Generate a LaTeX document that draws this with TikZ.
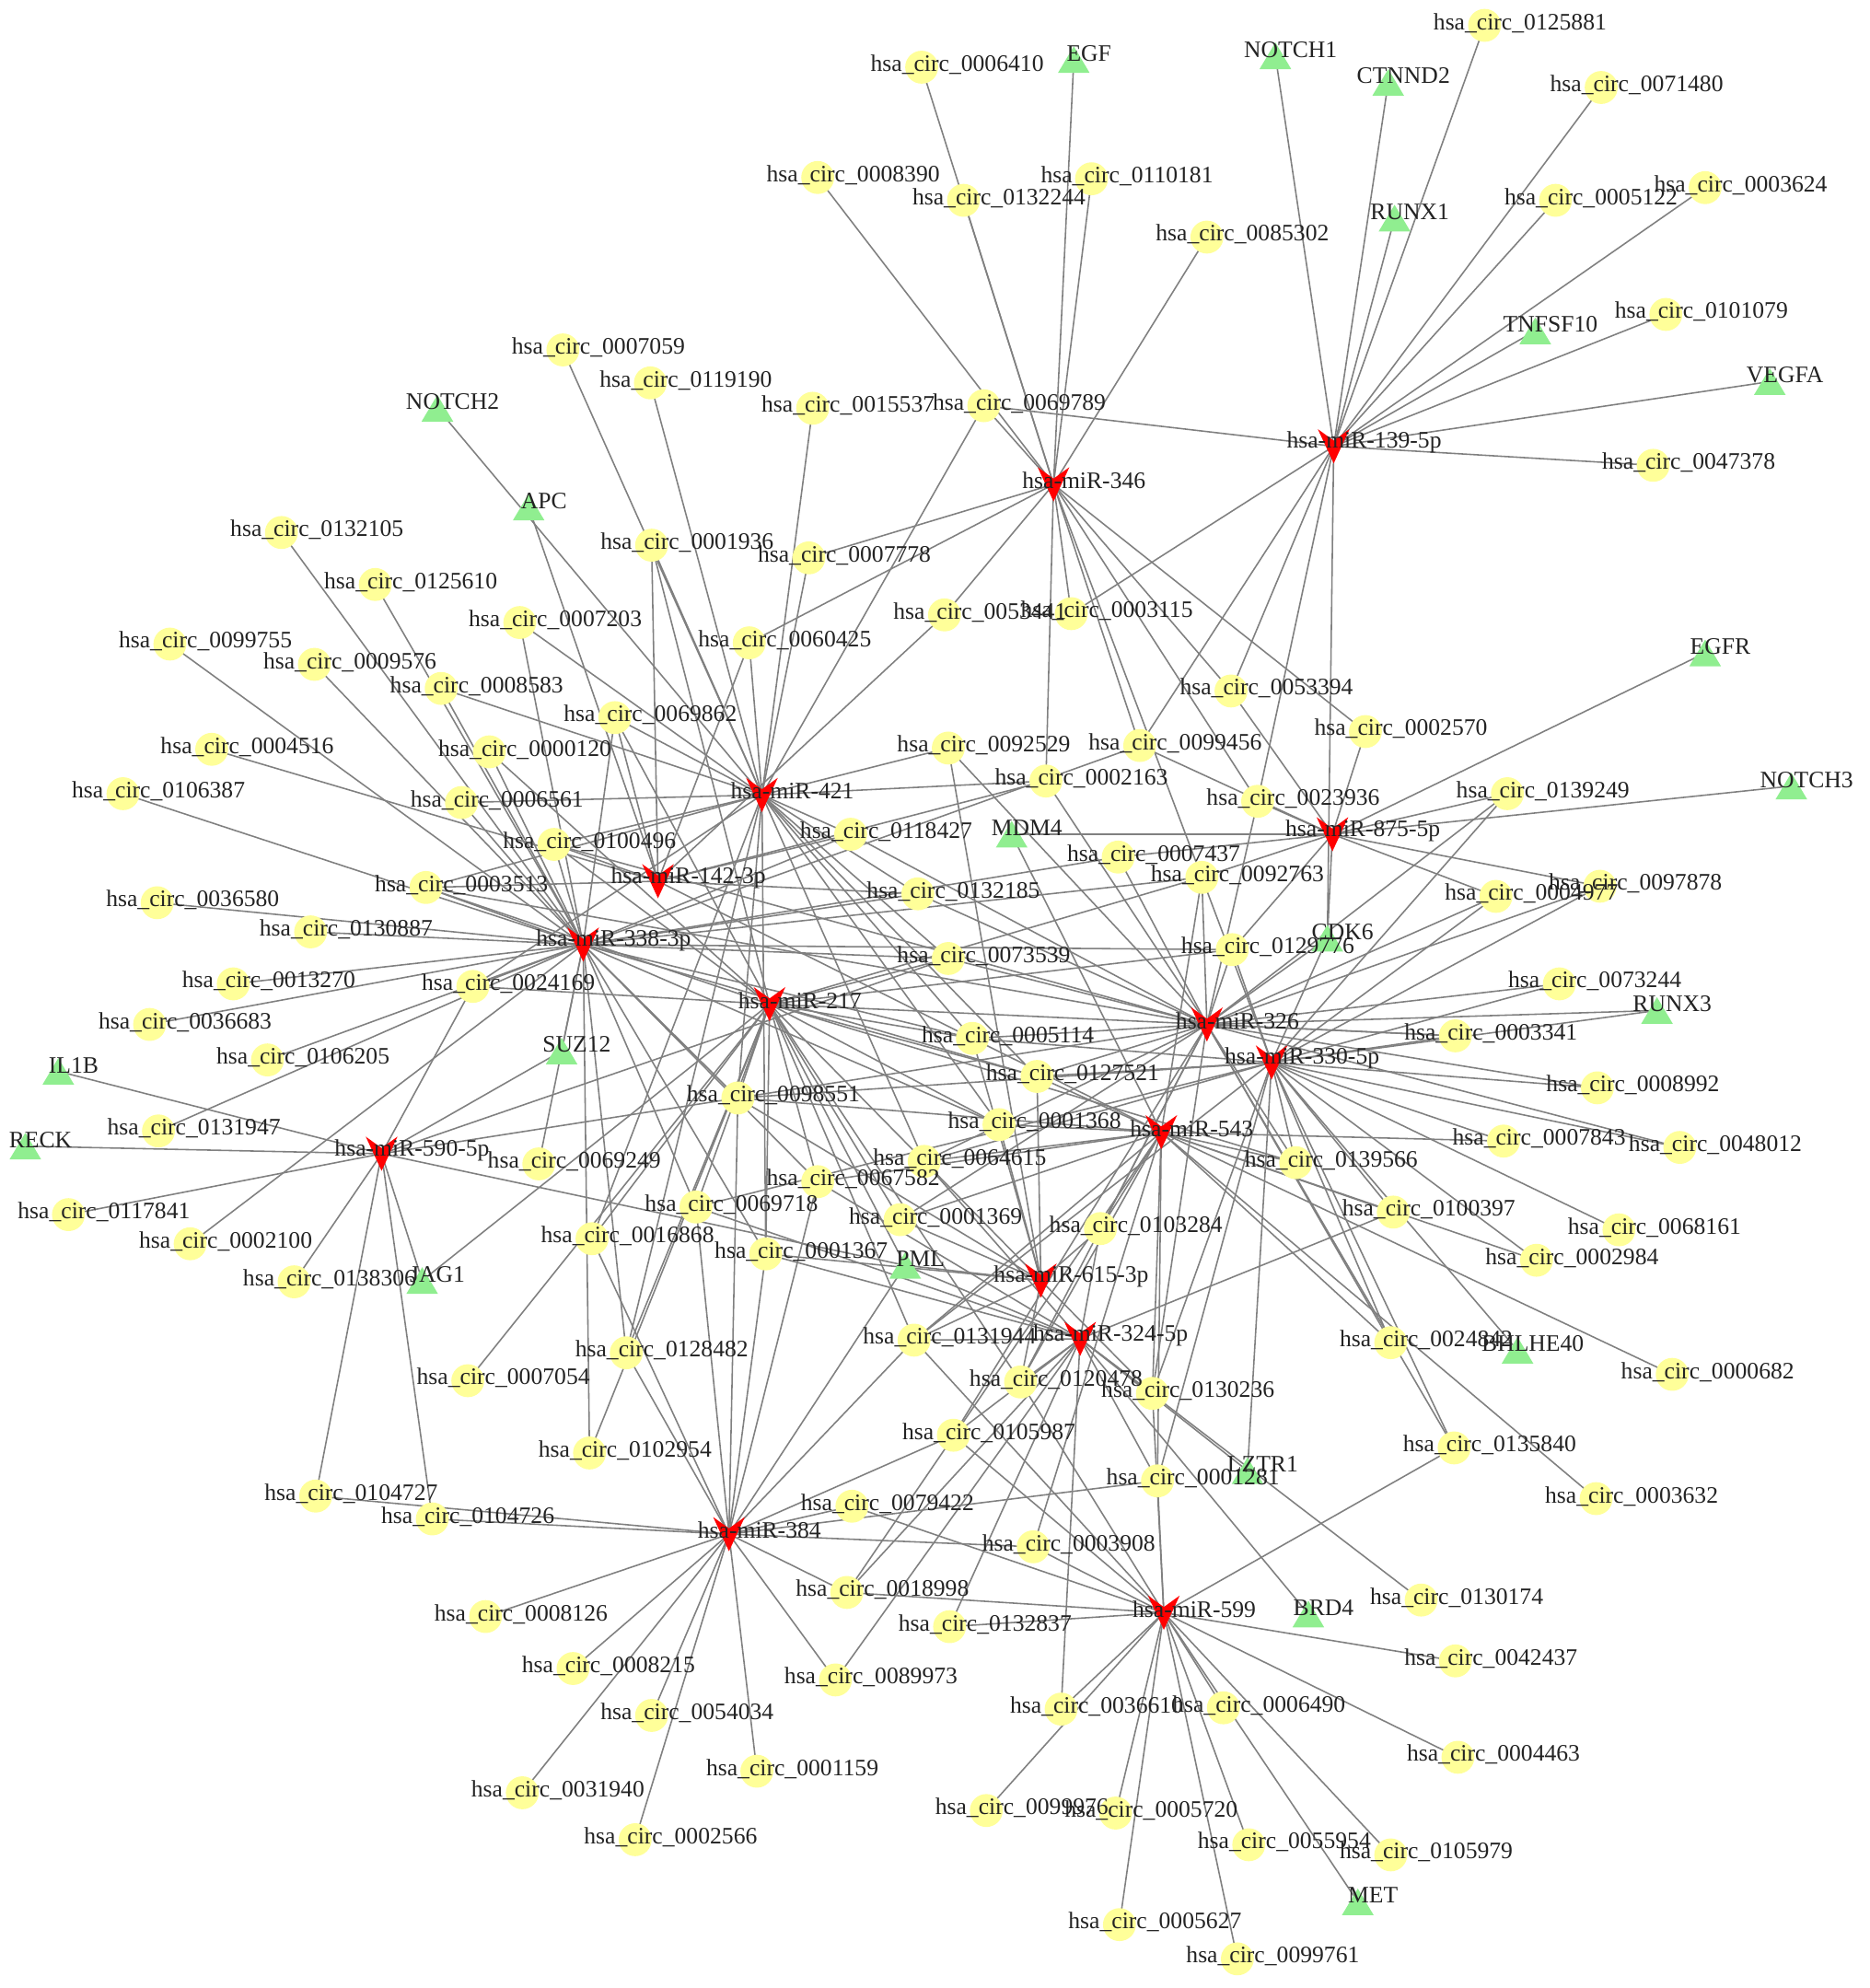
\documentclass[tikz,border=0pt]{standalone}
\usepackage{fontspec}
\setmainfont{Liberation Serif}
\usetikzlibrary{calc}
\definecolor{circyellow}{RGB}{255,255,153}
\definecolor{genegreen}{RGB}{144,238,144}
\definecolor{mirred}{RGB}{255,0,0}
\definecolor{edgegrey}{RGB}{128,128,128}
\definecolor{labelgrey}{RGB}{35,35,35}
\pgfdeclarelayer{edges}
\pgfdeclarelayer{labels}
\pgfsetlayers{edges,main,labels}

% circRNA id / x / y
\newcommand{\circlist}{0006410/727/53, 0125881/1171/20, 0071480/1263/69, 0008390/645/140,
  0110181/861/141, 0132244/760/158, 0005122/1227/158, 0003624/1345/148, 0085302/952/187,
  0101079/1314/248, 0007059/444/276, 0119190/513/302, 0015537/641/322, 0069789/776/320,
  0047378/1304/367, 0132105/222/420, 0001936/514/430, 0007778/638/440, 0125610/296/461,
  0007203/410/491, 0053441/745/485, 0003115/845/484, 0099755/134/508, 0009576/248/524,
  0060425/591/507, 0008583/348/543, 0053394/971/545, 0069862/485/566, 0002570/1077/577,
  0004516/167/591, 0000120/386/593, 0092529/748/590, 0099456/899/588, 0002163/825/616,
  0106387/97/626, 0006561/364/633, 0023936/992/632, 0139249/1189/626, 0118427/671/658,
  0100496/437/666, 0007437/882/676, 0092763/948/692, 0003513/336/700, 0097878/1262/699,
  0004977/1180/707, 0132185/724/705, 0036580/124/712, 0130887/245/735, 0073539/748/756,
  0129776/972/749, 0013270/184/776, 0024169/373/778, 0073244/1230/776, 0036683/118/808,
  0005114/767/819, 0003341/1148/817, 0106205/211/836, 0127521/818/849, 0098551/582/866,
  0008992/1260/858, 0001368/788/887, 0131947/125/892, 0007843/1186/900, 0048012/1325/905,
  0069249/425/918, 0064615/729/916, 0139566/1022/917, 0067582/645/932, 0117841/54/958,
  0069718/549/952, 0001369/710/962, 0103284/868/969, 0100397/1099/956, 0068161/1277/970,
  0002100/150/981, 0016868/467/977, 0001367/604/989, 0002984/1212/994, 0138306/232/1011,
  0128482/494/1067, 0131944/721/1057, 0024842/1097/1059, 0000682/1319/1084, 0007054/369/1089,
  0120478/805/1090, 0130236/909/1099, 0102954/465/1146, 0105987/752/1132, 0135840/1147/1142,
  0001281/913/1168, 0003632/1259/1182, 0104727/249/1180, 0104726/341/1198, 0079422/672/1188,
  0003908/815/1220, 0130174/1121/1262, 0008126/383/1275, 0018998/668/1256, 0132837/749/1283,
  0042437/1148/1310, 0008215/452/1316, 0089973/659/1325, 0054034/514/1353, 0036610/837/1348,
  0006490/965/1347, 0004463/1150/1386, 0001159/597/1397, 0031940/412/1414, 0099976/778/1428,
  0005720/880/1430, 0002566/501/1451, 0055954/985/1455, 0105979/1097/1463, 0005627/883/1518,
  0099761/976/1545}
% miRNA id / label / x / y
\newcommand{\mirlist}{139/139-5p/1052/352, 346/346/831/382, 421/421/601/627, 142/142-3p/519/695,
  338/338-3p/460/745, 217/217/607/792, 875/875-5p/1051/658, 326/326/952/808,
  330/330-5p/1003/838, 543/543/916/893, 590/590-5p/301/910, 615/615-3p/821/1010,
  324/324-5p/852/1056, 384/384/575/1210, 599/599/918/1272}
% gene / x / y
\newcommand{\genelist}{EGF/847/47, NOTCH1/1006/44, CTNND2/1095/65, RUNX1/1100/172,
  TNFSF10/1211/261, VEGFA/1396/301, NOTCH2/345/322, APC/417/400, EGFR/1345/515,
  NOTCH3/1413/620, MDM4/798/658, CDK6/1047/740, RUNX3/1307/797, IL1B/46/845,
  SUZ12/443/829, RECK/20/904, JAG1/333/1010, PML/714/998, BHLHE40/1197/1065,
  LZTR1/984/1160, BRD4/1032/1273, MET/1071/1500}

\begin{document}
\begin{tikzpicture}[x=0.02cm, y=-0.02cm,
    circnode/.style={circle, fill=circyellow, minimum size=0.52cm, inner sep=0pt},
    mirnode/.style={rectangle, minimum width=0.5cm, minimum height=0.54cm, inner sep=0pt,
      path picture={\fill[mirred] (path picture bounding box.north west)
        -- ($(path picture bounding box.north)+(0,-0.18cm)$)
        -- (path picture bounding box.north east)
        -- (path picture bounding box.south) -- cycle;}},
    genenode/.style={rectangle, minimum width=0.5cm, minimum height=0.42cm, inner sep=0pt,
      path picture={\fill[genegreen] (path picture bounding box.south west)
        -- (path picture bounding box.north)
        -- (path picture bounding box.south east) -- cycle;}},
    namelabel/.style={font=\fontsize{10.6}{12}\selectfont, text=labelgrey, inner sep=0pt},
    lnk/.style={draw=edgegrey, line width=0.65pt},
]
\useasboundingbox (0,0) rectangle (1475,1568);

% Nodes
\foreach \id/\px/\py in \circlist {\node[circnode] (c\id) at (\px,\py) {};}
\foreach \id/\lbl/\px/\py in \mirlist {\node[mirnode] (m\id) at (\px,\py) {};}
\foreach \id/\px/\py in \genelist {\node[genenode] (g\id) at (\px,\py) {};}

% Labels
\begin{pgfonlayer}{labels}
\foreach \id/\px/\py in \circlist {\node[namelabel] (t\id) at (\px+28,\py-2) {hsa\_circ\_\id};}
\foreach \id/\lbl/\px/\py in \mirlist {\node[namelabel] (tm\id) at (\px+24,\py-3) {hsa-miR-\lbl};}
\foreach \id/\px/\py in \genelist {\node[namelabel] (tg\id) at (\px+12,\py-5) {\id};}
\end{pgfonlayer}

% Interactions
\begin{pgfonlayer}{edges}
\foreach \n in {c0006410,c0008390,c0132244,c0110181,c0085302,gEGF,c0069789,c0007778,c0053441,
  c0003115,c0053394,c0002570,c0002163,c0099456,c0092763,c0023936,c0060425}
  \draw[lnk] (m346.center) -- (\n.center);
\foreach \n in {gNOTCH1,gCTNND2,gRUNX1,gTNFSF10,gVEGFA,c0125881,c0071480,c0005122,c0003624,
  c0101079,c0047378,c0069789,gCDK6,c0003115,c0099456,c0053394,c0023936}
  \draw[lnk] (m139.center) -- (\n.center);
\foreach \n in {c0069789,c0015537,c0119190,c0007059,gNOTCH2,c0001936,c0007778,c0060425,c0069862,
  c0008583,c0007203,c0006561,c0100496,c0003513,c0118427,c0132185,c0092529,c0002163,c0073539,
  c0005114,c0098551,c0001368,c0127521,c0064615,c0016868,c0128482,c0001367,c0024169}
  \draw[lnk] (m421.center) -- (\n.center);
\foreach \n in {gAPC,c0001936,c0004516,c0069862,c0100496,c0060425,c0053441,c0003513,c0132185,
  c0118427,c0002163,c0005114}
  \draw[lnk] (m142.center) -- (\n.center);
\foreach \n in {c0132105,c0125610,c0099755,c0009576,c0007203,c0008583,c0000120,c0106387,c0006561,
  c0100496,c0003513,c0036580,c0130887,c0013270,c0024169,c0036683,c0106205,c0131947,c0002100,
  c0069249,gSUZ12,c0069862,c0118427,c0132185,c0073539,c0005114,c0127521,c0098551,c0001368,
  c0067582,c0069718,c0128482,c0102954,c0001367,c0092763,c0129776,c0007437,c0099456}
  \draw[lnk] (m338.center) -- (\n.center);
\foreach \n in {c0001936,c0000120,c0100496,c0024169,gJAG1,c0007054,c0073539,c0005114,c0127521,
  c0001368,c0064615,c0098551,c0067582,c0069718,c0001369,c0016868,c0001367,c0128482,c0102954,
  c0131944,c0120478,c0003513,c0069862,c0092763,c0129776,c0003341,c0139566,gPML}
  \draw[lnk] (m217.center) -- (\n.center);
\foreach \n in {gIL1B,gRECK,c0117841,c0138306,gJAG1,gSUZ12,c0104727,c0104726,c0024169,gPML,
  c0073539,c0098551}
  \draw[lnk] (m590.center) -- (\n.center);
\foreach \n in {gNOTCH3,gEGFR,gMDM4,gCDK6,c0002570,c0023936,c0053394,c0139249,c0007437,c0092763,
  c0129776,c0004977,c0097878,c0099456}
  \draw[lnk] (m875.center) -- (\n.center);
\foreach \n in {c0092529,c0002163,c0118427,c0007437,c0092763,c0132185,c0073539,c0129776,c0005114,
  c0127521,c0098551,c0064615,c0001369,c0103284,c0120478,c0130236,c0139566,c0048012,c0008992,
  gRUNX3,c0003341,c0073244,c0097878,c0004977,c0139249,gCDK6,c0023936,c0135840,c0024842,
  c0105987,c0003513,c0100496}
  \draw[lnk] (m326.center) -- (\n.center);
\foreach \n in {c0069718,c0131944,c0130236,c0001281,gLZTR1,c0135840,c0024842,gBHLHE40,c0002984,
  c0068161,c0100397,c0139566,c0007843,c0048012,c0008992,gRUNX3,c0003341,c0073244,c0097878,
  c0004977,c0139249,gCDK6,c0129776,c0092763,c0005114,c0127521,c0064615,c0098551}
  \draw[lnk] (m330.center) -- (\n.center);
\foreach \n in {c0127521,c0001368,c0064615,c0067582,c0001369,c0103284,c0120478,c0130236,c0131944,
  c0139566,c0007843,c0100397,c0002984,c0000682,c0003632,c0024842,gMDM4,c0003908,c0018998,
  c0092763,c0005114,c0001281,c0098551}
  \draw[lnk] (m543.center) -- (\n.center);
\foreach \n in {c0098551,c0005114,c0001368,c0064615,c0001369,c0001367,c0103284,c0120478,c0131944,
  c0130236,c0092529,gPML,c0127521}
  \draw[lnk] (m615.center) -- (\n.center);
\foreach \n in {gPML,c0001367,c0131944,c0120478,c0130236,c0105987,c0089973,c0132837,c0036610,
  c0018998,gBRD4,c0130174,c0100397,c0001281,c0103284,c0064615,c0067582,c0069718,gLZTR1}
  \draw[lnk] (m324.center) -- (\n.center);
\foreach \n in {c0008126,c0008215,c0054034,c0031940,c0002566,c0001159,c0089973,c0018998,c0079422,
  c0003908,c0001281,c0104727,c0104726,c0016868,c0128482,c0069718,c0001367,c0098551,c0105987,
  c0131944,gPML,c0067582}
  \draw[lnk] (m384.center) -- (\n.center);
\foreach \n in {c0099976,c0005720,c0005627,c0099761,c0055954,c0105979,gMET,c0006490,c0004463,
  c0042437,c0135840,c0036610,c0079422,c0018998,c0132837,c0003908,c0120478,c0105987,c0131944,
  c0001281,c0130236}
  \draw[lnk] (m599.center) -- (\n.center);
\end{pgfonlayer}
\end{tikzpicture}
\end{document}
